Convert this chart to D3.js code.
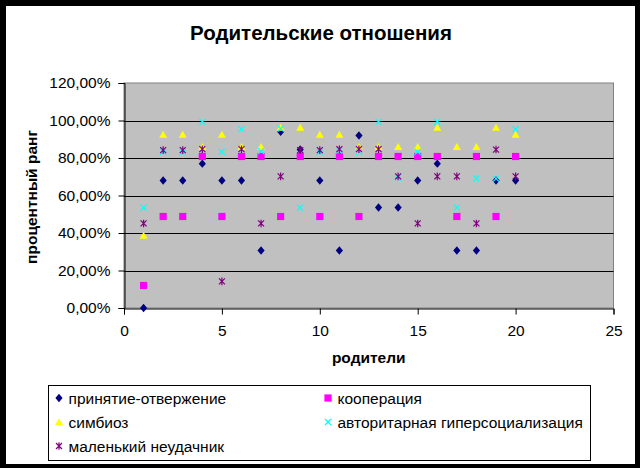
<!DOCTYPE html>
<html><head><meta charset="utf-8">
<script src="https://cdn.jsdelivr.net/npm/d3@7"></script>
<style>body{margin:0;background:#fff}svg{display:block}text{font-family:"Liberation Sans",Arial,sans-serif}</style>
</head><body><svg id="c" width="640" height="468"></svg>
<script>
const parents = d3.range(1, 21);
const acceptance = [0, 68, 68, 77, 68, 68, 30.7, 94, 84.5, 68, 30.7, 92, 53.6, 53.6, 68, 77, 30.7, 30.7, 68, 68];
const cooperation = [12, 48.8, 48.8, 80.8, 48.8, 80.8, 80.8, 48.8, 80.8, 48.8, 80.8, 48.8, 80.8, 80.8, 80.8, 80.8, 48.8, 80.8, 48.8, 80.8];
const symbiosis = [38.7, 92.5, 92.5, 86, 92.5, 86, 86, 96.3, 96.3, 92.5, 92.5, 86, 86, 86, 86, 96.3, 86, 86, 96.3, 92.5];
const authoritarian = [53.5, 83.3, 83.3, 99.3, 83.3, 95.4, 83.7, 95.7, 53.5, 83.3, 84, 83.3, 99.3, 69.6, 83.3, 99.3, 53.5, 69.1, 69, 95.4];
const loser = [45.1, 84.2, 84.2, 84.7, 14.2, 84.7, 45.1, 70.2, 84.2, 84.2, 84.7, 84.7, 84.7, 70.2, 45.1, 70.2, 70.2, 45.1, 84.5, 70.2];
const seriesNames = ["принятие-отвержение", "кооперация", "симбиоз", "авторитарная гиперсоциализация", "маленький неудачник"];
const yTicks = [0, 20, 40, 60, 80, 100, 120];
const xTicks = [0, 5, 10, 15, 20, 25];

const svg = d3.select("#c");
svg.append("rect").attr("width", 640).attr("height", 468).attr("fill", "#000");
svg.append("rect").attr("x", 6).attr("y", 6).attr("width", 629).attr("height", 458).attr("fill", "#fff");

const L = 124, R = 613.5, T = 83, B = 308;
const x = d3.scaleLinear().domain([0, 25]).range([L, R]);
const y = d3.scaleLinear().domain([0, 120]).range([B, T]);

svg.append("rect").attr("x", L).attr("y", T).attr("width", R - L).attr("height", B - T)
  .attr("fill", "#c0c0c0").attr("stroke", "#808080").attr("stroke-width", 1);

// gridlines
svg.append("g").selectAll("line").data(yTicks.filter(v => v > 0 && v < 120)).join("line")
  .attr("x1", L).attr("x2", R).attr("y1", d => Math.round(y(d)) + 0.5).attr("y2", d => Math.round(y(d)) + 0.5)
  .attr("stroke", "#000").attr("stroke-width", 1);

const fmt = v => d3.format(".2f")(v).replace(".", ",") + "%";
const yAxis = d3.axisLeft(y).tickValues(yTicks).tickFormat(fmt).tickSize(6).tickPadding(8);
const gy = svg.append("g").attr("transform", `translate(${L + 0.5},0)`).call(yAxis);
const xAxis = d3.axisBottom(x).tickValues(xTicks).tickFormat(d3.format("d")).tickSize(6).tickPadding(8);
const gx = svg.append("g").attr("transform", `translate(0,${B + 0.5})`).call(xAxis);
[gy, gx].forEach(g => {
  g.select(".domain").attr("stroke", "#000");
  g.selectAll(".tick line").attr("stroke", "#000");
  g.selectAll("text").attr("font-size", 15.5).attr("fill", "#000").attr("font-family", '"Liberation Sans",Arial,sans-serif');
});
gx.selectAll("text").attr("dy", "0.9em");

// title & axis labels
svg.append("text").attr("x", 321).attr("y", 40).attr("text-anchor", "middle")
  .attr("font-size", 20.5).attr("font-weight", "bold").text("Родительские отношения");
svg.append("text").attr("x", (L + R) / 2).attr("y", 363).attr("text-anchor", "middle")
  .attr("font-size", 15.5).attr("font-weight", "bold").text("родители");
svg.append("text").attr("transform", `translate(37,197) rotate(-90)`).attr("text-anchor", "middle")
  .attr("font-size", 15.5).attr("font-weight", "bold").text("процентный ранг");

// marker shapes
const shapes = [
  { fill: "#000080", stroke: "none", path: "M0,-4.2L3.6,0L0,4.2L-3.6,0Z" },
  { fill: "#ff00ff", stroke: "none", path: "M-3.6,-3.6H3.6V3.6H-3.6Z" },
  { fill: "#ffff00", stroke: "none", path: "M0,-3.8L4,3.2L-4,3.2Z" },
  { fill: "none", stroke: "#00ffff", path: "M-3,-3L3,3M3,-3L-3,3" },
  { fill: "none", stroke: "#800080", path: "M-3,-3L3,3M3,-3L-3,3M0,-3.8V3.8" }
];
const allSeries = [acceptance, cooperation, symbiosis, authoritarian, loser];

const plot = svg.append("g");
allSeries.forEach((vals, i) => {
  const s = shapes[i];
  plot.append("g").selectAll("path").data(vals.map((v, j) => ({ p: parents[j], v }))).join("path")
    .attr("transform", d => `translate(${x(d.p)},${y(d.v)})`)
    .attr("d", s.path).attr("fill", s.fill).attr("stroke", s.stroke).attr("stroke-width", 1.2);
});

// legend
svg.append("rect").attr("x", 48.5).attr("y", 385.5).attr("width", 542).attr("height", 75)
  .attr("fill", "#fff").attr("stroke", "#000");
const legendPos = [[59, 398], [328, 398], [59, 422], [328, 422], [59, 446]];
seriesNames.forEach((name, i) => {
  const [lx, ly] = legendPos[i];
  const s = shapes[i];
  svg.append("path").attr("transform", `translate(${lx},${ly})`).attr("d", s.path)
    .attr("fill", s.fill).attr("stroke", s.stroke).attr("stroke-width", 1.2);
  svg.append("text").attr("x", lx + 9.5).attr("y", ly + 5.5).attr("font-size", 15.5).text(name);
});
</script></body></html>
